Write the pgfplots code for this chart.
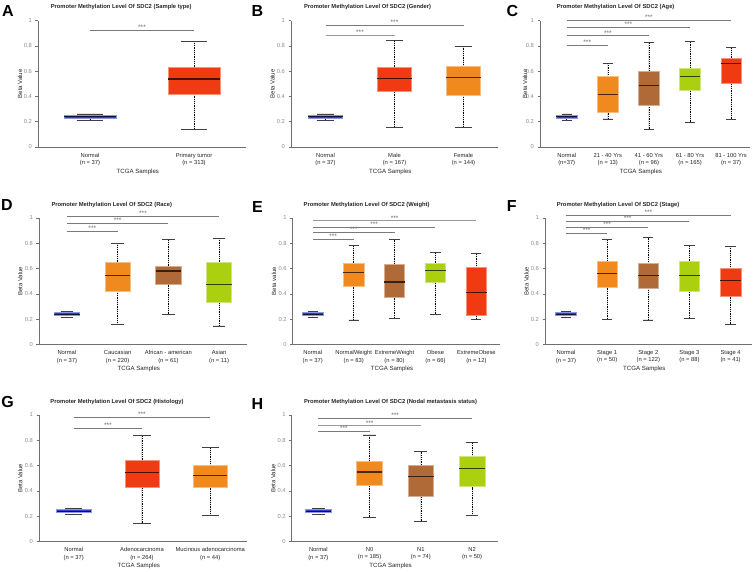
\documentclass[border=0pt]{standalone}
\usepackage{pgfplots}
\pgfplotsset{compat=1.18}
\usepgfplotslibrary{statistics}
\usepackage{fontspec}
\setmainfont{Liberation Sans}

\definecolor{cblue}{HTML}{2F3FD0}
\definecolor{cred}{HTML}{F03A12}
\definecolor{corange}{HTML}{F0891E}
\definecolor{cbrown}{HTML}{B06A38}
\definecolor{cgreen}{HTML}{AAD010}
\definecolor{axgray}{HTML}{707070}
\definecolor{tkgray}{HTML}{8C8C8C}
\definecolor{siggray}{HTML}{7A7A7A}

\pgfplotsset{
  boxplot/draw direction=y,
  boxplot/box extend=0.5,
  boxplot/whisker extend=0.25,
  boxplot/draw/lower whisker/.code={%
    \draw[black, line width=0.5pt, dash pattern=on 1pt off 0.8pt]
      (boxplot box cs:\pgfplotsboxplotvalue{lower whisker},0.5) --
      (boxplot box cs:\pgfplotsboxplotvalue{lower quartile},0.5);
    \draw[black!75, line width=0.7pt]
      (boxplot whisker cs:\pgfplotsboxplotvalue{lower whisker},0) --
      (boxplot whisker cs:\pgfplotsboxplotvalue{lower whisker},1);
  },
  boxplot/draw/upper whisker/.code={%
    \draw[black, line width=0.5pt, dash pattern=on 1pt off 0.8pt]
      (boxplot box cs:\pgfplotsboxplotvalue{upper quartile},0.5) --
      (boxplot box cs:\pgfplotsboxplotvalue{upper whisker},0.5);
    \draw[black!75, line width=0.7pt]
      (boxplot whisker cs:\pgfplotsboxplotvalue{upper whisker},0) --
      (boxplot whisker cs:\pgfplotsboxplotvalue{upper whisker},1);
  },
  panel/.style={
    scale only axis, width=#1, height=126.3pt, anchor=south west, clip=false,
    ymin=0, ymax=1, ytick={0,0.2,0.4,0.6,0.8,1}, yticklabels={0,0.2,0.4,0.6,0.8,1},
    axis lines=left, axis line style={-, draw=axgray, line width=0.6pt},
    tick align=outside, major tick length=2.5pt,
    ytick style={draw=axgray, line width=0.5pt},
    xtick style={draw=none},
    yticklabel style={font=\fontsize{5.8}{6}\selectfont, text=tkgray},
    xticklabel style={font=\fontsize{5.8}{7.6}\selectfont, align=center, text=black!85},
    xlabel={TCGA Samples}, ylabel={Beta Value},
    xlabel style={font=\fontsize{6.1}{7}\selectfont, text=black!85, at={(axis description cs:0.48,0)}, anchor=center, yshift=-25pt},
    ylabel style={font=\fontsize{6}{7}\selectfont, text=black!85, anchor=center, at={(axis description cs:-0.09,0.5)}},
    /pgf/number format/assume math mode=true,
  },
  sig/.style={siggray, line width=0.6pt, forget plot},
}
\tikzset{
  sigl/.style={font=\fontsize{6.5}{6}\selectfont, text=black!60, anchor=south, inner sep=0.3pt},
  titlef/.style={font=\bfseries\fontsize{5.8}{6}\selectfont, text=black!85, yshift=13.2pt},
  letter/.style={font=\bfseries\fontsize{16}{16}\selectfont},
}
\newcommand{\bx}[7]{%
  \addplot[boxplot prepared={draw position=#1, lower whisker=#2, lower quartile=#3,
    median=#4, upper quartile=#5, upper whisker=#6},
    fill=#7, draw=#7!55!white, line width=0.6pt,
    boxplot/every median/.style={draw=#7!30!black, line width=1.1pt}] coordinates {};
}

\begin{document}
\begin{tikzpicture}
\path[use as bounding box] (0,0) rectangle (753pt,571pt);

% ---------------- A
\begin{axis}[panel=208pt, at={(38pt,424pt)}, xmin=-0.5, xmax=1.5, xtick={0,1},
  xticklabels={{Normal\\(n = 37)},{Primary tumor\\(n = 313)}},
  ylabel style={at={(axis description cs:-0.087,0.5)}}]
\bx{0}{0.21}{0.23}{0.238}{0.25}{0.262}{cblue}
\bx{1}{0.142}{0.417}{0.538}{0.631}{0.839}{cred}
\addplot[sig] coordinates {(0,0.923) (1,0.923)};
\node[sigl] at (axis cs:0.5,0.923) {***};
\node[titlef] at (axis description cs:0.40,1) {Promoter Methylation Level Of SDC2 (Sample type)};
\end{axis}

% ---------------- B
\begin{axis}[panel=207pt, at={(291pt,424pt)}, xmin=-0.5, xmax=2.5, xtick={0,1,2},
  xticklabels={{Normal\\(n = 37)},{Male\\(n = 167)},{Female\\(n = 144)}}]
\bx{0}{0.21}{0.23}{0.238}{0.25}{0.262}{cblue}
\bx{1}{0.158}{0.441}{0.541}{0.631}{0.844}{cred}
\bx{2}{0.158}{0.412}{0.549}{0.636}{0.797}{corange}
\addplot[sig, draw=black!40] coordinates {(0,0.884) (1,0.884)};
\node[sigl] at (axis cs:0.5,0.884) {***};
\addplot[sig] coordinates {(0,0.966) (2,0.966)};
\node[sigl] at (axis cs:1,0.966) {***};
\node[titlef] at (axis description cs:0.37,1) {Promoter Methylation Level Of SDC2 (Gender)};
\end{axis}

% ---------------- C
\begin{axis}[panel=210pt, at={(540pt,424pt)}, xmin=-0.65, xmax=4.46, xtick={0,1,2,3,4},
  xticklabels={{Normal\\(n=37)},{21 - 40 Yrs\\(n = 13)},{41 - 60 Yrs\\(n = 96)},{61 - 80 Yrs\\(n = 165)},{81 - 100 Yrs\\(n = 37)}},
  ylabel style={at={(axis description cs:-0.072,0.5)}}]
\bx{0}{0.21}{0.23}{0.238}{0.25}{0.262}{cblue}
\bx{1}{0.222}{0.274}{0.417}{0.557}{0.662}{corange}
\bx{2}{0.140}{0.330}{0.488}{0.602}{0.828}{cbrown}
\bx{3}{0.195}{0.451}{0.557}{0.625}{0.839}{cgreen}
\bx{4}{0.219}{0.504}{0.660}{0.702}{0.786}{cred}
\addplot[sig] coordinates {(0,0.807) (1,0.807)};
\node[sigl] at (axis cs:0.5,0.807) {***};
\addplot[sig] coordinates {(0,0.881) (2,0.881)};
\node[sigl] at (axis cs:1,0.881) {***};
\addplot[sig] coordinates {(0,0.947) (3,0.947)};
\node[sigl] at (axis cs:1.5,0.947) {***};
\addplot[sig] coordinates {(0,1.005) (4,1.005)};
\node[sigl] at (axis cs:2,1.005) {***};
\node[titlef] at (axis description cs:0.36,1) {Promoter Methylation Level Of SDC2 (Age)};
\end{axis}

% ---------------- D
\begin{axis}[panel=208pt, at={(39pt,226.7pt)}, xmin=-0.55, xmax=3.55, xtick={0,1,2,3},
  xticklabels={{Normal\\(n = 37)},{Caucasian\\(n = 220)},{African - american\\(n = 61)},{Asian\\(n = 11)}}]
\bx{0}{0.21}{0.23}{0.238}{0.25}{0.262}{cblue}
\bx{1}{0.156}{0.422}{0.544}{0.649}{0.800}{corange}
\bx{2}{0.237}{0.472}{0.580}{0.617}{0.831}{cbrown}
\bx{3}{0.145}{0.332}{0.472}{0.649}{0.839}{cgreen}
\addplot[sig] coordinates {(0,0.894) (1,0.894)};
\node[sigl] at (axis cs:0.5,0.894) {***};
\addplot[sig] coordinates {(0,0.958) (2,0.958)};
\node[sigl] at (axis cs:1,0.958) {***};
\addplot[sig] coordinates {(0,1.016) (3,1.016)};
\node[sigl] at (axis cs:1.5,1.016) {***};
\node[titlef] at (axis description cs:0.35,1) {Promoter Methylation Level Of SDC2 (Race)};
\end{axis}

% ---------------- E
\begin{axis}[panel=207pt, at={(292.7pt,226.7pt)}, xmin=-0.49, xmax=4.57, xtick={0,1,2,3,4},
  xticklabels={{Normal\\(n = 37)},{NormalWeight\\(n = 83)},{ExtremeWeight\\(n = 80)},{Obese\\(n = 66)},{ExtremeObese\\(n = 12)}},
  ylabel={Beta value}]
\bx{0}{0.21}{0.23}{0.238}{0.25}{0.262}{cblue}
\bx{1}{0.193}{0.459}{0.570}{0.641}{0.786}{corange}
\bx{2}{0.208}{0.369}{0.493}{0.636}{0.831}{cbrown}
\bx{3}{0.237}{0.493}{0.586}{0.641}{0.728}{cgreen}
\bx{4}{0.200}{0.230}{0.409}{0.607}{0.720}{cred}
\addplot[sig] coordinates {(0,0.831) (1,0.831)};
\node[sigl] at (axis cs:0.5,0.831) {***};
\addplot[sig] coordinates {(0,0.887) (2,0.887)};
\node[sigl] at (axis cs:1,0.887) {***};
\addplot[sig] coordinates {(0,0.926) (3,0.926)};
\node[sigl] at (axis cs:1.5,0.926) {***};
\addplot[sig, draw=black!40] coordinates {(0,0.979) (4,0.979)};
\node[sigl] at (axis cs:2,0.979) {***};
\node[titlef] at (axis description cs:0.357,1) {Promoter Methylation Level Of SDC2 (Weight)};
\end{axis}

% ---------------- F
\begin{axis}[panel=207pt, at={(545pt,226.7pt)}, xmin=-0.51, xmax=4.52, xtick={0,1,2,3,4},
  xticklabels={{Normal\\(n = 37)},{Stage 1\\(n = 50)},{Stage 2\\(n = 122)},{Stage 3\\(n = 88)},{Stage 4\\(n = 41)}}]
\bx{0}{0.21}{0.23}{0.238}{0.25}{0.262}{cblue}
\bx{1}{0.198}{0.454}{0.562}{0.660}{0.831}{corange}
\bx{2}{0.193}{0.446}{0.546}{0.639}{0.844}{cbrown}
\bx{3}{0.208}{0.420}{0.546}{0.657}{0.786}{cgreen}
\bx{4}{0.158}{0.377}{0.507}{0.599}{0.778}{cred}
\addplot[sig] coordinates {(0,0.879) (1,0.879)};
\node[sigl] at (axis cs:0.5,0.879) {***};
\addplot[sig] coordinates {(0,0.929) (2,0.929)};
\node[sigl] at (axis cs:1,0.929) {***};
\addplot[sig] coordinates {(0,0.974) (3,0.974)};
\node[sigl] at (axis cs:1.5,0.974) {***};
\addplot[sig] coordinates {(0,1.024) (4,1.024)};
\node[sigl] at (axis cs:2,1.024) {***};
\node[titlef] at (axis description cs:0.353,1) {Promoter Methylation Level Of SDC2 (Stage)};
\end{axis}

% ---------------- G
\begin{axis}[panel=208pt, at={(39pt,29.7pt)}, xmin=-0.51, xmax=2.54, xtick={0,1,2},
  xticklabels={{Normal\\(n = 37)},{Adenocarcinoma\\(n = 264)},{Mucinous adenocarcinoma\\(n = 44)}}]
\bx{0}{0.21}{0.23}{0.238}{0.25}{0.262}{cblue}
\bx{1}{0.142}{0.427}{0.546}{0.641}{0.839}{cred}
\bx{2}{0.203}{0.430}{0.520}{0.599}{0.744}{corange}
\addplot[sig] coordinates {(0,0.894) (1,0.894)};
\node[sigl] at (axis cs:0.5,0.894) {***};
\addplot[sig] coordinates {(0,0.982) (2,0.982)};
\node[sigl] at (axis cs:1,0.982) {***};
\node[titlef] at (axis description cs:0.375,1) {Promoter Methylation Level Of SDC2 (Histology)};
\end{axis}

% ---------------- H
\begin{axis}[panel=206pt, at={(291.7pt,29.7pt)}, xmin=-0.52, xmax=3.5, xtick={0,1,2,3},
  xticklabels={{Normal\\(n = 37)},{N0\\(n = 185)},{N1\\(n = 74)},{N2\\(n = 50)}}]
\bx{0}{0.21}{0.23}{0.238}{0.25}{0.262}{cblue}
\bx{1}{0.190}{0.443}{0.549}{0.636}{0.842}{corange}
\bx{2}{0.158}{0.356}{0.515}{0.602}{0.712}{cbrown}
\bx{3}{0.203}{0.433}{0.578}{0.670}{0.784}{cgreen}
\addplot[sig] coordinates {(0,0.873) (1,0.873)};
\node[sigl] at (axis cs:0.5,0.873) {***};
\addplot[sig, draw=black!40] coordinates {(0,0.916) (2,0.916)};
\node[sigl] at (axis cs:1,0.916) {***};
\addplot[sig] coordinates {(0,0.974) (3,0.974)};
\node[sigl] at (axis cs:1.5,0.974) {***};
\node[titlef] at (axis description cs:0.48,1) {Promoter Methylation Level Of SDC2 (Nodal metastasis status)};
\end{axis}

% panel letters
\node[letter] at (8pt,560pt) {A};
\node[letter] at (257.5pt,560pt) {B};
\node[letter] at (512.5pt,560pt) {C};
\node[letter] at (7pt,366pt) {D};
\node[letter] at (257.5pt,364pt) {E};
\node[letter] at (511.7pt,365pt) {F};
\node[letter] at (7.5pt,169pt) {G};
\node[letter] at (257.5pt,167pt) {H};
\end{tikzpicture}
\end{document}
